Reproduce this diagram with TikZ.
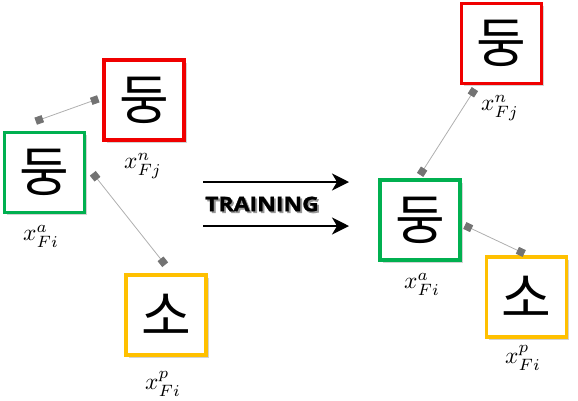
\documentclass[tikz,border=0pt]{standalone}
\usepackage{graphicx}
\usepackage{fontspec}
\newfontfamily\kr{Noto Sans CJK KR}
\newfontfamily\trainfont[BoldFeatures={FakeBold=1.2}]{Open Sans}
\usetikzlibrary{arrows.meta,shadows}
\definecolor{boxred}{RGB}{240,0,0}
\definecolor{boxgreen}{RGB}{0,176,80}
\definecolor{boxgold}{RGB}{255,192,0}
\definecolor{linkgray}{RGB}{175,175,175}
\definecolor{tipgray}{RGB}{115,115,115}
\newcommand{\featlbl}[2]{\scalebox{2.35}{$x^{#1}_{#2}$}}
\begin{document}
\begin{tikzpicture}[x=1pt,y=-1pt,
  kbox/.style={rectangle, draw, line width=3.6pt, fill=white, inner sep=0pt, minimum size=80pt,
    font=\kr\fontsize{54}{60}\selectfont,
    drop shadow={shadow xshift=2.5pt,shadow yshift=-2.5pt,opacity=0.35}},
  feat/.style={inner sep=0pt},
  link/.style={draw=linkgray, line width=0.8pt,
    {Square[length=7.5pt,width=7.5pt,color=tipgray]}-{Square[length=7.5pt,width=7.5pt,color=tipgray]}},
  train/.style={line width=2.3pt, -{Stealth[length=17pt,width=17pt,inset=5pt]}},
  trainlbl/.style={xscale=1.15, font=\trainfont\bfseries\fontsize{20}{24}\selectfont}]
  \useasboundingbox (0,0) rectangle (578,400);

  % before training
  \node[kbox, draw=boxred] (rn1) at (144,100) {둥};
  \node[kbox, draw=boxgreen] (ga1) at (44.5,172.5) {둥};
  \node[kbox, draw=boxgold] (yp1) at (166,315) {소};

  \node[feat] (rn1l) at (143,166) {\featlbl{n}{Fj}};
  \node[feat] (ga1l) at (41,236) {\featlbl{a}{Fi}};
  \node[feat] (yp1l) at (163,384) {\featlbl{p}{Fi}};

  \coordinate (c1) at (35.7,121.2);
  \coordinate (c2) at (98.3,98.8);
  \coordinate (c3) at (92.8,173.3);
  \coordinate (c4) at (165.2,264.7);
  \draw[link] (c1) -- (c2);
  \draw[link] (c3) -- (c4);

  % training arrows
  \coordinate (t1) at (203,182);
  \coordinate (t2) at (349,182);
  \coordinate (t3) at (203,226);
  \coordinate (t4) at (349,226);
  \draw[train] (t1) -- (t2);
  \draw[train] (t3) -- (t4);
  \node[trainlbl, text=black!40] (trs) at (263.8,205.8) {TRAINING};
  \node[trainlbl] (tr) at (262,204) {TRAINING};

  % after training
  \node[kbox, draw=boxred] (rn2) at (501.5,43.5) {둥};
  \node[kbox, draw=boxgreen] (ga2) at (420,220) {둥};
  \node[kbox, draw=boxgold] (yp2) at (526.5,297) {소};

  \node[feat] (rn2l) at (500,108) {\featlbl{n}{Fj}};
  \node[feat] (ga2l) at (422,284) {\featlbl{a}{Fi}};
  \node[feat] (yp2l) at (523,358) {\featlbl{p}{Fi}};

  \coordinate (c5) at (474.9,89.1);
  \coordinate (c6) at (420.1,174.9);
  \coordinate (c7) at (464.8,225.5);
  \coordinate (c8) at (524.2,253.5);
  \draw[link] (c5) -- (c6);
  \draw[link] (c7) -- (c8);
\end{tikzpicture}
\end{document}
